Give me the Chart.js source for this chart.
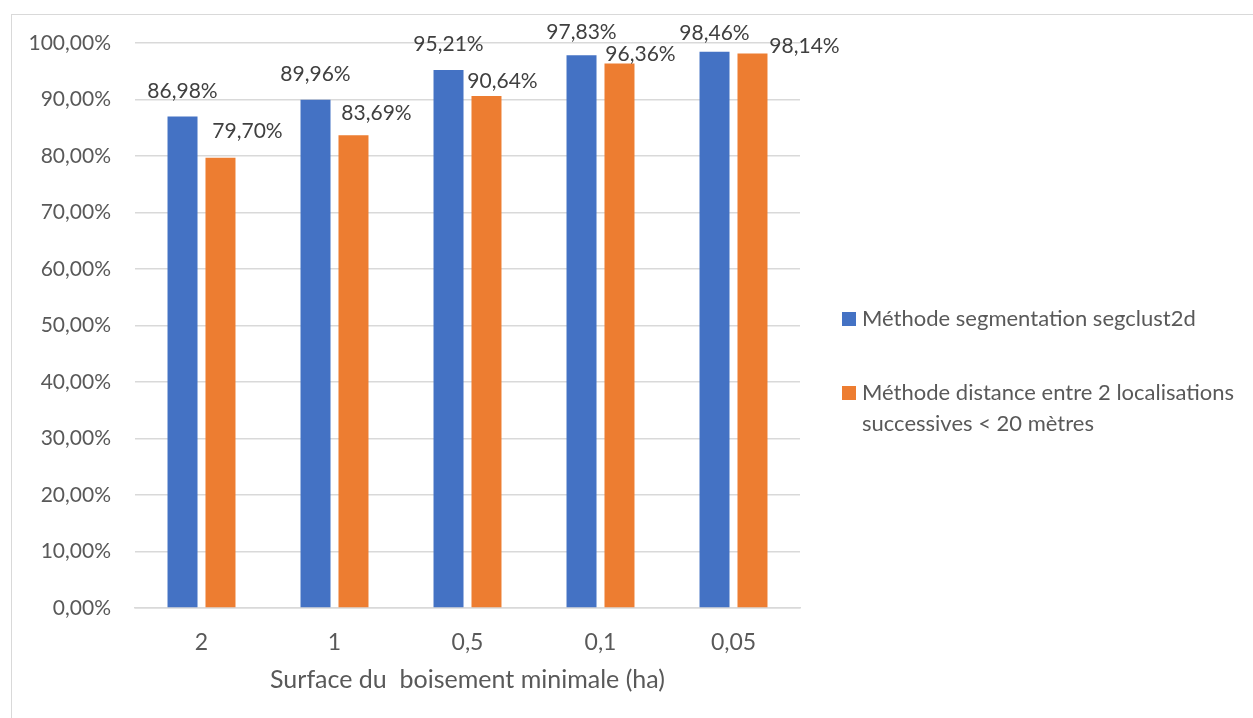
<!DOCTYPE html>
<html>
<head>
<meta charset="utf-8">
<script src="https://cdn.jsdelivr.net/npm/chart.js@4/dist/chart.umd.min.js"></script>
<style>
  html, body { margin: 0; padding: 0; background: #ffffff; overflow: hidden; }
  #frame { position: absolute; left: 11px; top: 14px; width: 1400px; height: 900px; border: 1px solid #d9d9d9; box-sizing: border-box; }
  #wrap { position: absolute; left: 0; top: 0; width: 1253px; height: 718px; }
</style>
</head>
<body>
<div id="frame"></div>
<div id="wrap"><canvas id="c" width="1253" height="718"></canvas></div>
<script>
const categories = ['2', '1', '0,5', '0,1', '0,05'];
const seriesNames = [
  'Méthode segmentation segclust2d',
  ['Méthode distance entre 2 localisations', 'successives < 20 mètres']
];
const segclustValues = [86.98, 89.96, 95.21, 97.83, 98.46];
const distanceValues = [79.70, 83.69, 90.64, 96.36, 98.14];
const yTicks = [0, 10, 20, 30, 40, 50, 60, 70, 80, 90, 100];
const xTitle = 'Surface du  boisement minimale (ha)';

const FONT = 'Lato, "Open Sans", sans-serif';
const fmt = v => v.toFixed(2).replace('.', ',') + '%';

// label offsets (style): [dx, dy] of label centre relative to bar centre / bar top
const labelOffsets = [
  [[0, -25], [0, -25], [0, -26], [0, -23], [0, -18]],
  [[27, -26], [23, -22], [16, -15], [21, -9], [52, -7]]
];

const dataLabels = {
  id: 'dataLabels',
  afterDatasetsDraw(chart) {
    const ctx = chart.ctx;
    ctx.save();
    ctx.font = '21px ' + FONT;
    ctx.fillStyle = '#404040';
    ctx.textAlign = 'center';
    ctx.textBaseline = 'middle';
    chart.data.datasets.forEach((ds, di) => {
      const meta = chart.getDatasetMeta(di);
      meta.data.forEach((bar, i) => {
        const off = labelOffsets[di][i];
        ctx.fillText(fmt(ds.data[i]), bar.x + off[0], bar.y + off[1]);
      });
    });
    ctx.restore();
  }
};

const customLegend = {
  id: 'customLegend',
  afterDraw(chart) {
    const ctx = chart.ctx;
    ctx.save();
    ctx.font = '22px ' + FONT;
    ctx.textBaseline = 'middle';
    ctx.textAlign = 'left';
    const boxX = 842, textX = 862, box = 14, lineH = 31;
    const itemY = [319, 393];
    chart.data.datasets.forEach((ds, di) => {
      const y = itemY[di];
      ctx.fillStyle = ds.backgroundColor;
      ctx.fillRect(boxX, y - box / 2, box, box);
      ctx.fillStyle = '#595959';
      const lines = Array.isArray(seriesNames[di]) ? seriesNames[di] : [seriesNames[di]];
      lines.forEach((t, li) => ctx.fillText(t, textX, y + li * lineH));
    });
    ctx.restore();
  }
};

new Chart(document.getElementById('c'), {
  type: 'bar',
  data: {
    labels: categories,
    datasets: [
      { label: 'Méthode segmentation segclust2d', data: segclustValues, backgroundColor: '#4472C4', categoryPercentage: 0.571, barPercentage: 0.79 },
      { label: 'Méthode distance entre 2 localisations successives < 20 mètres', data: distanceValues, backgroundColor: '#ED7D31', categoryPercentage: 0.571, barPercentage: 0.79 }
    ]
  },
  options: {
    responsive: false,
    animation: false,
    layout: { padding: { left: 0, right: 453, top: 43, bottom: 0 } },
    plugins: { legend: { display: false }, tooltip: { enabled: false } },
    scales: {
      x: {
        grid: { display: false },
        border: { display: true, color: '#d9d9d9', width: 1.5 },
        ticks: { color: '#595959', font: { family: FONT, size: 23 }, padding: 13 },
        title: { display: true, text: xTitle, color: '#595959', font: { family: FONT, size: 25 }, padding: { top: 0, bottom: 23 } },
        afterFit(scale) { scale.height = 110; }
      },
      y: {
        min: 0, max: 100,
        afterBuildTicks(scale) { scale.ticks = yTicks.map(v => ({ value: v })); },
        grid: { color: '#d9d9d9', lineWidth: 1.5, drawTicks: false },
        border: { display: false },
        ticks: { color: '#595959', font: { family: FONT, size: 21 }, padding: 24, callback: v => fmt(v) },
        afterFit(scale) { scale.width = 135; }
      }
    }
  },
  plugins: [dataLabels, customLegend]
});
</script>
</body>
</html>
